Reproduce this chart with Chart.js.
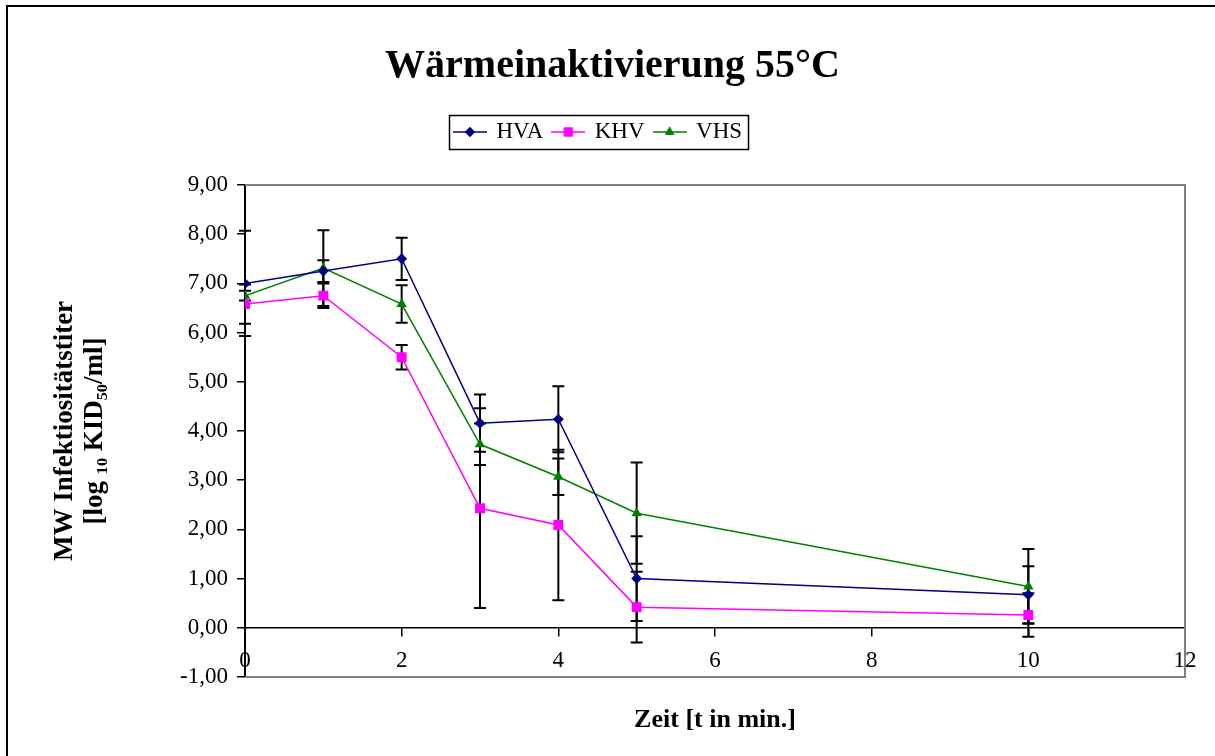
<!DOCTYPE html>
<html>
<head>
<meta charset="utf-8">
<script src="https://cdn.jsdelivr.net/npm/chart.js@4.4.1/dist/chart.umd.min.js"></script>
<style>
  html, body { margin: 0; padding: 0; background: #ffffff; }
  #wrap { width: 1215px; height: 756px; position: relative; }
</style>
</head>
<body>
<div id="wrap"><canvas id="c" width="1215" height="756"></canvas></div>
<script>
// ---- data ----
const times = [0, 1, 2, 3, 4, 5, 10];
const hvaValues = [7.00, 7.25, 7.50, 4.16, 4.24, 1.00, 0.67];
const hvaErrors = [1.07, 0.22, 0.43, 0.58, 0.67, 0.86, 0.58];
const khvValues = [6.58, 6.75, 5.50, 2.43, 2.09, 0.42, 0.26];
const khvErrors = [0.40, 0.25, 0.25, 2.03, 1.53, 0.72, 0.44];
const vhsValues = [6.75, 7.31, 6.58, 3.73, 3.07, 2.33, 0.84];
const vhsErrors = [0.10, 0.77, 0.38, 0.42, 0.37, 1.03, 0.76];
const seriesNames = ['HVA', 'KHV', 'VHS'];
const chartTitle = 'Wärmeinaktivierung 55°C';
const xTitle = 'Zeit [t in min.]';
const yTitleLines = ['MW Infektiositätstiter', '[log ₁₀ KID₅₀/ml]'];
const yTickMin = -1, yTickMax = 9, yTickStep = 1;
const xTickMin = 0, xTickMax = 12, xTickStep = 2;

const FONT = '"Liberation Serif", "Times New Roman", serif';
const colors = ['#000080', '#FF00FF', '#008000'];
const styles = ['rectRot', 'rect', 'triangle'];
const radii = [5.5, 7, 6];

function toPoints(vals) { return vals.map((v, i) => ({ x: times[i], y: v })); }

function legendImage(color, style, r) {
  const cv = document.createElement('canvas');
  cv.width = 34; cv.height = 14;
  const g = cv.getContext('2d');
  g.strokeStyle = color; g.lineWidth = 1.6;
  g.beginPath(); g.moveTo(0, 7); g.lineTo(34, 7); g.stroke();
  g.fillStyle = color;
  Chart.helpers.drawPoint(g, { pointStyle: style, radius: r * 0.9, rotation: 0, borderWidth: 0 }, 17, 7);
  g.fill();
  return cv;
}

const allValues = [hvaValues, khvValues, vhsValues];
const allErrors = [hvaErrors, khvErrors, vhsErrors];

const datasets = seriesNames.map((name, i) => ({
  label: name,
  data: toPoints(allValues[i]),
  errors: allErrors[i],
  borderColor: colors[i],
  backgroundColor: colors[i],
  borderWidth: 1.5,
  pointStyle: styles[i],
  pointRadius: radii[i],
  pointBorderWidth: 0,
  pointBackgroundColor: colors[i],
  pointBorderColor: colors[i],
  tension: 0,
  xAxisID: 'x',
  yAxisID: 'y'
}));

const errorBarPlugin = {
  id: 'errorBars',
  beforeDatasetsDraw(chart) {
    const { ctx } = chart;
    const xs = chart.scales.x, ys = chart.scales.y;
    ctx.save();
    ctx.strokeStyle = '#000000';
    ctx.lineWidth = 2;
    chart.data.datasets.forEach(ds => {
      ds.data.forEach((p, j) => {
        const e = ds.errors[j];
        const px = xs.getPixelForValue(p.x);
        const top = ys.getPixelForValue(p.y + e);
        const bot = ys.getPixelForValue(p.y - e);
        ctx.beginPath();
        ctx.moveTo(px, top); ctx.lineTo(px, bot);
        ctx.moveTo(px - 6, top); ctx.lineTo(px + 6, top);
        ctx.moveTo(px - 6, bot); ctx.lineTo(px + 6, bot);
        ctx.stroke();
      });
    });
    ctx.restore();
  }
};

const framePlugin = {
  id: 'frames',
  afterLayout(chart) {
    const lg = chart.legend;
    if (lg) { lg.left -= 14; lg.right -= 14; }
  },
  beforeDraw(chart) {
    const { ctx } = chart;
    ctx.save();
    ctx.fillStyle = '#ffffff';
    ctx.fillRect(0, 0, chart.width, chart.height);
    ctx.strokeStyle = '#000000';
    ctx.lineWidth = 2;
    ctx.strokeRect(7, 6, chart.width + 20, chart.height + 20);
    ctx.restore();
  },
  beforeDatasetsDraw(chart) {
    const { ctx, chartArea: a } = chart;
    ctx.save();
    ctx.strokeStyle = '#808080';
    ctx.lineWidth = 2;
    ctx.beginPath();
    ctx.moveTo(a.left, a.top); ctx.lineTo(a.right, a.top);
    ctx.lineTo(a.right, a.bottom); ctx.lineTo(a.left, a.bottom);
    ctx.stroke();
    ctx.restore();
  },
  afterDraw(chart) {
    const lg = chart.legend;
    if (!lg || !lg.legendHitBoxes || !lg.legendHitBoxes.length) return;
    const hb = lg.legendHitBoxes;
    const first = hb[0], last = hb[hb.length - 1];
    const { ctx } = chart;
    ctx.save();
    ctx.strokeStyle = '#000000';
    ctx.lineWidth = 1.5;
    const l = Math.round(first.left) - 5.5;
    const r = Math.round(last.left + last.width) + 6.5;
    const t = Math.round(first.top + first.height / 2) - 16.5;
    const b = t + 34;
    ctx.strokeRect(l, t, r - l, b - t);
    ctx.restore();
  }
};

new Chart(document.getElementById('c'), {
  type: 'line',
  data: { datasets },
  plugins: [errorBarPlugin, framePlugin],
  options: {
    responsive: false,
    animation: false,
    layout: { padding: { left: 10, right: 0, top: 0, bottom: 0 } },
    plugins: {
      title: {
        display: true,
        text: chartTitle,
        color: '#000000',
        font: { family: FONT, size: 40, weight: 'bold', lineHeight: 1.2 },
        padding: { top: 43, bottom: 19.5 }
      },
      legend: {
        display: true,
        position: 'top',
        labels: {
          color: '#000000',
          font: { family: FONT, size: 23 },
          usePointStyle: true,
          pointStyleWidth: 30,
          padding: 10,
          generateLabels(chart) {
            return chart.data.datasets.map((ds, i) => ({
              text: ds.label,
              pointStyle: legendImage(colors[i], styles[i], radii[i]),
              fillStyle: colors[i],
              strokeStyle: colors[i],
              lineWidth: 0,
              hidden: false,
              datasetIndex: i,
              fontColor: '#000000'
            }));
          }
        }
      },
      tooltip: { enabled: false }
    },
    scales: {
      x: {
        type: 'linear',
        position: { y: 0 },
        min: xTickMin, max: xTickMax,
        afterFit(s) { s.height = 0; },
        ticks: {
          stepSize: xTickStep,
          color: '#000000',
          font: { family: FONT, size: 23 },
          padding: 11,
          maxRotation: 0
        },
        grid: { display: true, drawOnChartArea: false, drawTicks: true, tickLength: 8, color: '#000000', lineWidth: 1.5 },
        border: { display: true, color: '#000000', width: 1.5 }
      },
      xTop: {
        type: 'linear',
        position: 'top',
        min: 0, max: 12,
        afterFit(s) { s.height = 31.5; },
        ticks: { display: false },
        grid: { display: false },
        border: { display: false }
      },
      xBottom: {
        type: 'linear',
        position: 'bottom',
        min: 0, max: 12,
        afterFit(s) { s.height = 79; },
        ticks: { display: false },
        grid: { display: false },
        border: { display: false },
        title: {
          display: true,
          text: xTitle,
          color: '#000000',
          font: { family: FONT, size: 26, weight: 'bold', lineHeight: 1.2 },
          padding: { top: 0, bottom: 20 }
        }
      },
      yRight: {
        type: 'linear',
        position: 'right',
        min: -1, max: 9,
        afterFit(s) { s.width = 30; },
        ticks: { display: false },
        grid: { display: false },
        border: { display: false }
      },
      y: {
        type: 'linear',
        position: 'left',
        min: yTickMin, max: yTickMax,
        afterFit(s) { s.width = 235; },
        ticks: {
          stepSize: yTickStep,
          color: '#000000',
          font: { family: FONT, size: 23 },
          padding: 9,
          callback: v => v.toFixed(2).replace('.', ',')
        },
        grid: { display: true, drawOnChartArea: false, drawTicks: true, tickLength: 8, color: '#000000', lineWidth: 1.5 },
        border: { display: true, color: '#000000', width: 2 },
        title: {
          display: true,
          text: yTitleLines,
          color: '#000000',
          font: { family: FONT, size: 27, weight: 'bold', lineHeight: 1.1 },
          padding: { top: 40, bottom: 0 }
        }
      }
    }
  }
});
</script>
</body>
</html>
